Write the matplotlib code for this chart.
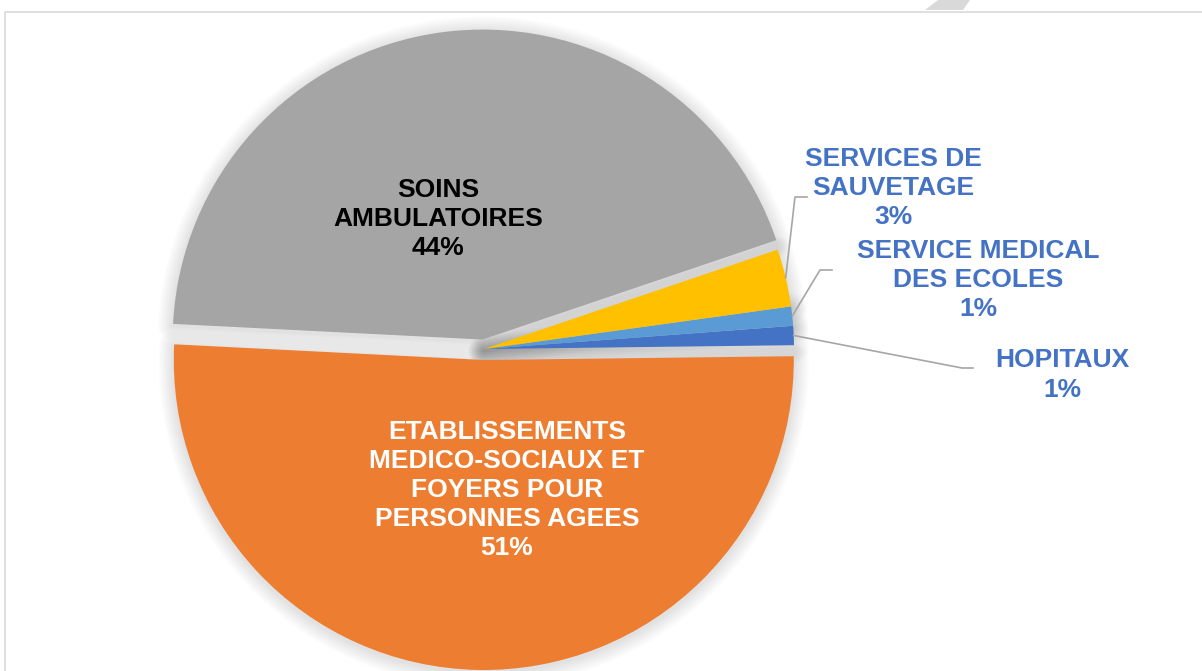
import matplotlib.pyplot as plt
from matplotlib.patches import Wedge, Polygon
import numpy as np

# data (counterclockwise from the right)
labels = ["HOPITAUX", "SERVICE MEDICAL\nDES ECOLES", "SERVICES DE\nSAUVETAGE",
          "SOINS\nAMBULATOIRES",
          "ETABLISSEMENTS\nMEDICO-SOCIAUX ET\nFOYERS POUR\nPERSONNES AGEES"]
values = [1, 1, 3, 44, 51]
colors = ["#4472C4", "#5B9BD5", "#FFC000", "#A5A5A5", "#ED7D31"]

W, H = 1202, 671


def main():
    fig = plt.figure(figsize=(W / 100, H / 100), dpi=100)
    ax = fig.add_axes([0, 0, 1, 1])

    cx, cy, r = 484, H - 349, 310
    # explode is in data units (pixels here)
    explode = [0, 0, 0, 9.5, 11]
    wedges, _ = ax.pie(values, colors=colors, explode=explode, startangle=0.7,
                       counterclock=True, radius=r, center=(cx, cy),
                       wedgeprops=dict(linewidth=0, zorder=2))

    # soft shadow around each slice
    for w in wedges:
        for lw in np.linspace(22, 2, 10):
            sh = Wedge((w.center[0], w.center[1] - 2), w.r, w.theta1, w.theta2,
                       facecolor="none", edgecolor="black", linewidth=lw,
                       alpha=0.011, joinstyle="round", zorder=1)
            ax.add_patch(sh)

    font = dict(family="Liberation Sans", fontweight="bold", fontsize=19,
                ha="center", va="center", linespacing=1.27)

    # inside labels
    inside = {3: ((438, 219), "black"), 4: ((507, 490), "white")}
    for i, ((x, y), c) in inside.items():
        ax.text(x, H - y, f"{labels[i]}\n{values[i]}%", color=c, zorder=5, **font)

    # outside labels with leader lines
    outside = {2: ((893, 188), (795, 197), (807, 197)),
               1: ((978, 280), (820, 270), (832, 270)),
               0: ((1062, 375), (962, 368), (973, 368))}
    for i, ((x, y), elbow, end) in outside.items():
        w = wedges[i]
        mid = np.deg2rad((w.theta1 + w.theta2) / 2)
        sx = w.center[0] + w.r * np.cos(mid)
        sy = w.center[1] + w.r * np.sin(mid)
        ax.plot([sx, elbow[0], end[0]], [sy, H - elbow[1], H - end[1]],
                color="#A6A6A6", linewidth=1.2, zorder=4)
        ax.text(x, H - y, f"{labels[i]}\n{values[i]}%", color="#4472C4",
                zorder=5, **font)

    # chart frame and watermark corner
    ax.plot([5, 5, W], [0, H - 12, H - 12], color="#D9D9D9", linewidth=1.2, zorder=0)
    ax.add_patch(Polygon([(925, H - 10), (938, H), (970, H), (963, H - 10)],
                         closed=True, facecolor="#D9D9D9", edgecolor="none"))

    ax.set_xlim(0, W)
    ax.set_ylim(0, H)
    ax.set_aspect("auto")
    ax.axis("off")

    fig.savefig("out.png", dpi=100)


if __name__ == "__main__":
    main()
